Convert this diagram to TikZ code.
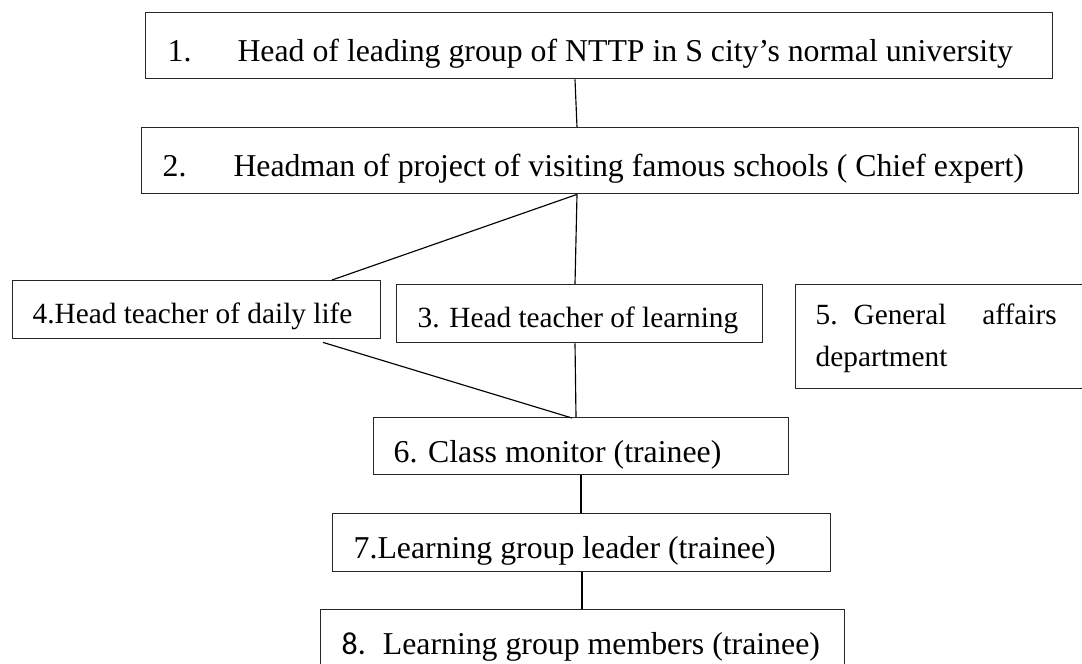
\documentclass[tikz,border=0pt]{standalone}
\usepackage{fontspec}
\setmainfont{Liberation Serif}
\newfontfamily\labelsans{Carlito}
\usetikzlibrary{calc}

\tikzset{
  orgbox/.style={draw=black!85, line width=1.4pt, rectangle, inner sep=0pt,
                 anchor=north west, fill=white},
  bigtext/.style={font=\fontsize{31.8}{38}\selectfont, text height=32pt, text depth=0pt},
  smalltext/.style={font=\fontsize{29.3}{35}\selectfont, text height=28pt, text depth=0pt},
  link/.style={draw=black, line width=1.15pt},
}

\begin{document}
\begin{tikzpicture}[x=1pt, y=-1pt]
  \useasboundingbox (0,0) rectangle (1082,664);
  \fill[white] (0,0) rectangle (1082,664);
  \clip (0,0) rectangle (1082,664);

  % boxes of the organisation chart
  \node[orgbox, bigtext, minimum width=907pt, minimum height=66pt] (n1) at (145,12)
    {\makebox[907pt][l]{\hspace*{22pt}1.\hspace{46pt}Head of leading group of NTTP in S city’s normal university}};
  \node[orgbox, bigtext, minimum width=937pt, minimum height=66pt] (n2) at (141,127)
    {\makebox[937pt][l]{\hspace*{21pt}2.\hspace{47pt}Headman of project of visiting famous schools ( Chief expert)}};
  \node[orgbox, smalltext, minimum width=368pt, minimum height=58pt] (n4) at (12,280)
    {\makebox[368pt][l]{\hspace*{20pt}4.Head teacher of daily life}};
  \node[orgbox, smalltext, minimum width=366pt, minimum height=58pt] (n3) at (396,284)
    {\makebox[366pt][l]{\hspace*{21pt}3. Head teacher of learning}};
  \node[orgbox, font=\fontsize{29.3}{42}\selectfont, minimum width=300pt, minimum height=104pt,
        text width=260pt, inner xsep=20pt, align=left, text height=20pt, text depth=44pt] (n5) at (795,284)
    {\makebox[241pt][s]{5.\hspace{16pt}General\hfill affairs}\\department};
  \node[orgbox, bigtext, minimum width=415pt, minimum height=57pt] (n6) at (373,417)
    {\makebox[415pt][l]{\hspace*{20pt}6. Class monitor (trainee)}};
  \node[orgbox, bigtext, minimum width=498pt, minimum height=58pt] (n7) at (332,513)
    {\makebox[498pt][l]{\hspace*{21pt}7.Learning group leader (trainee)}};
  \node[orgbox, bigtext, minimum width=524pt, minimum height=58pt] (n8) at (320,609)
    {\makebox[524pt][l]{\hspace*{21pt}{\labelsans 8.}\hspace{17pt}Learning group members (trainee)}};

  % connecting lines
  \draw[link] ($(n1.south west)+(430,0)$) -- ($(n2.north west)+(436,0)$);
  \draw[link] ($(n2.south west)+(436,0)$) -- ($(n4.north west)+(320,0)$);
  \draw[link] ($(n2.south west)+(436,0)$) -- ($(n3.north west)+(179,0)$);
  \draw[link] ($(n4.south west)+(311,3)$) -- ($(n6.north west)+(199,1)$);
  \draw[link] ($(n3.south west)+(179,0)$) -- ($(n6.north west)+(203,0)$);
  \draw[link] ($(n6.south west)+(208,0)$) -- ($(n7.north west)+(249,0)$);
  \draw[link] ($(n7.south west)+(250,0)$) -- ($(n8.north west)+(262,0)$);
\end{tikzpicture}
\end{document}
